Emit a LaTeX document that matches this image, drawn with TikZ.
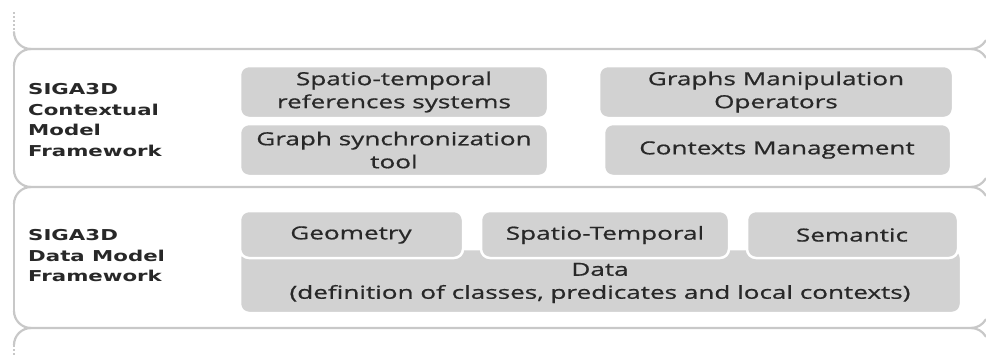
\documentclass[tikz,border=0pt]{standalone}
\usepackage{fontspec}
\setmainfont{Open Sans}
\newfontfamily\boxfont[FakeStretch=1.45,FakeBold=0.8]{Open Sans}
\newfontfamily\labfont[FakeStretch=1.42]{DejaVu Sans}
\definecolor{bandline}{RGB}{200,200,200}
\definecolor{boxfill}{RGB}{210,210,210}
\definecolor{txt}{RGB}{40,40,40}
\begin{document}
\begin{tikzpicture}[x=1pt,y=-1pt,
  band/.style={draw=bandline,line width=2.2pt,line cap=round},
  tile/.style={fill=boxfill,draw=white,line width=2.5pt,rounded corners=9pt,inner sep=0pt},
  tiletext/.style={text=txt,font=\boxfont\fontsize{18}{23}\selectfont,align=center},
  framelabel/.style={text=txt,font=\labfont\bfseries\fontsize{15}{20.5}\selectfont,align=left,anchor=west,inner sep=0pt}]
\useasboundingbox (0,0) rectangle (986,356);
% band boundaries
\foreach \y in {49,187,328}{
  \draw[band] (14,\y-17) arc[start angle=180,end angle=90,radius=17] -- (971,\y)
    arc[start angle=270,end angle=330,radius=17];
  \draw[band] (14,\y+17) arc[start angle=180,end angle=270,radius=17];
  \draw[band] (971,\y) arc[start angle=90,end angle=30,radius=17];
}
\draw[band] (14,66) -- (14,170);
\draw[band] (14,204) -- (14,311);
\draw[bandline,line width=2pt,dotted] (14,12) -- (14,32);
\draw[bandline,line width=2pt,dotted] (14,345) -- (14,356);
% labels
\node[framelabel] (lab1) at (28,120) {SIGA3D\\Contextual\\Model\\Framework};
\node[framelabel] (lab2) at (28,256) {SIGA3D\\Data Model\\Framework};
% contextual model tiles
\path[tile] (240,66) rectangle (548,118);
\node[tiletext] (str) at (394,92) {Spatio-temporal\\references systems};
\path[tile] (240,124) rectangle (548,176);
\node[tiletext] (gst) at (394,150) {Graph synchronization\\tool};
\path[tile] (599,66) rectangle (953,118);
\node[tiletext] (gmo) at (776,92) {Graphs Manipulation\\Operators};
\path[tile] (604,124) rectangle (951,176);
\node[tiletext] (ctm) at (777,150) {Contexts Management};
% data model tiles
\path[tile] (240,249) rectangle (961,313);
\node[tiletext] (dat) at (600,283) {Data\\(definition of classes, predicates and local contexts)};
\path[tile] (240,211) rectangle (463,258);
\node[tiletext] (geo) at (351,235) {Geometry};
\path[tile] (481,211) rectangle (729,258);
\node[tiletext] (spt) at (605,235) {Spatio-Temporal};
\path[tile] (747,211) rectangle (958,258);
\node[tiletext] (sem) at (852,235) {Semantic};
\end{tikzpicture}
\end{document}
